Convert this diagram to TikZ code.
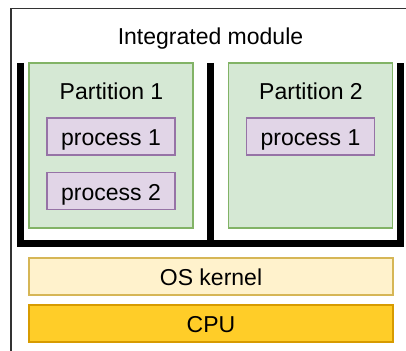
\documentclass[tikz,border=0pt]{standalone}
\usepackage{fontspec}
\setmainfont{Liberation Sans}
\definecolor{grfill}{HTML}{D5E8D4}
\definecolor{grline}{HTML}{82B366}
\definecolor{pufill}{HTML}{E1D5E7}
\definecolor{puline}{HTML}{9673A6}
\definecolor{osfill}{HTML}{FFF2CC}
\definecolor{osline}{HTML}{D6B656}
\definecolor{cpufill}{HTML}{FFCD28}
\definecolor{cpuline}{HTML}{D79B00}
\definecolor{frame}{HTML}{333333}
\begin{document}
\begin{tikzpicture}[x=1pt,y=-1pt,
  txt/.style={font=\fontsize{23}{27}\selectfont, inner sep=0pt},
  box/.style={txt, rectangle, line width=1.4pt, text height=18pt, text depth=0pt},
  partbox/.style={box, draw=grline, fill=grfill, minimum width=164pt, minimum height=165pt},
  procbox/.style={box, draw=puline, fill=pufill, minimum width=128pt, minimum height=37pt},
  wide/.style={box, minimum width=364pt, minimum height=37pt},
  sep/.style={line width=7pt, line join=miter, line cap=butt, black}
]
\useasboundingbox (0,0) rectangle (406,350);
\fill[white] (0,0) rectangle (406,350);
% outer frame
\draw[frame, line width=1.3pt] (11,352) -- (11,8.7) -- (408,8.7);
\node[txt, anchor=base] (title) at (210.5,44.3) {Integrated module};
% partitions
\node[partbox] (p1) at (111,145.5) {};
\node[partbox] (p2) at (310.5,145.5) {};
\node[txt, anchor=base] (p1l) at (111.5,99.3) {Partition 1};
\node[txt, anchor=base] (p2l) at (311,99.3) {Partition 2};
\node[procbox] (pr11) at (111,136.5) {process 1};
\node[procbox] (pr12) at (111,191) {process 2};
\node[procbox] (pr21) at (310.5,136.5) {process 1};
% separator
\coordinate (sa) at (20.5,63);
\coordinate (sb) at (20.5,243.8);
\coordinate (sc) at (400.5,243.8);
\coordinate (sd) at (400.5,63);
\coordinate (sm) at (210.5,63);
\coordinate (sn) at (210.5,243.8);
\draw[sep] (sa) -- (sb) -- (sc) -- (sd);
\draw[sep] (sm) -- (sn);
% OS and CPU
\node[wide, draw=osline, fill=osfill] (os) at (211,276.5) {OS kernel};
\node[wide, draw=cpuline, fill=cpufill] (cpu) at (211,323.5) {CPU};
\end{tikzpicture}
\end{document}
